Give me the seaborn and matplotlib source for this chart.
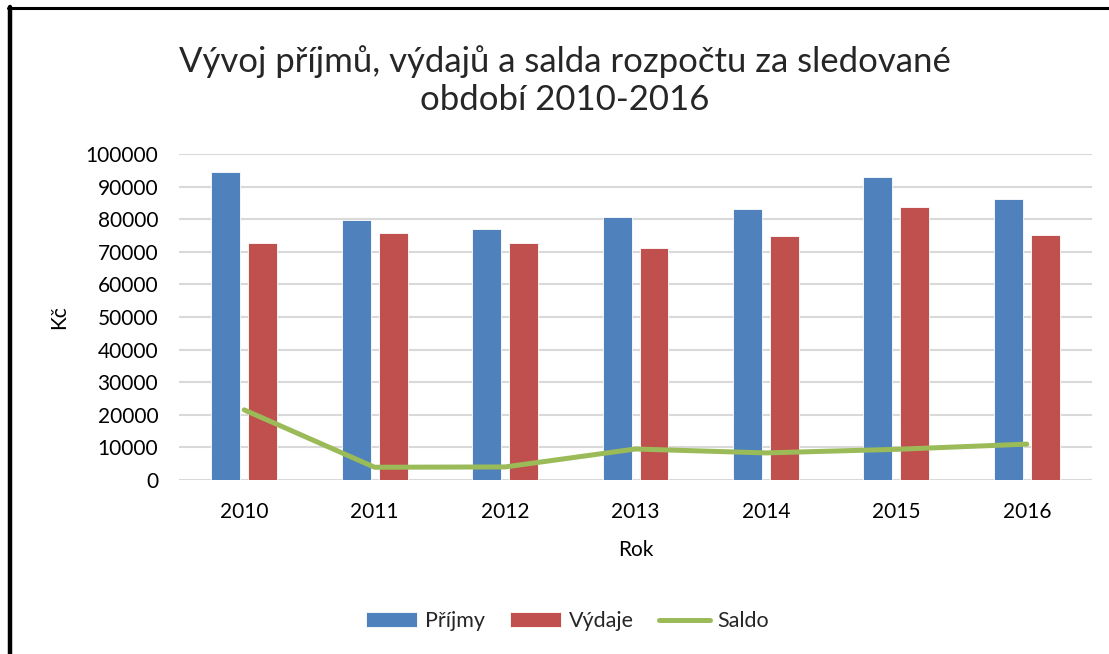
import numpy as np
import pandas as pd
import matplotlib.pyplot as plt
import seaborn as sns
from matplotlib.lines import Line2D

# values
years = ['2010', '2011', '2012', '2013', '2014', '2015', '2016']
prijmy = [94400, 79700, 76900, 80700, 83000, 93000, 86100]
vydaje = [72800, 75700, 72800, 71100, 74700, 83700, 75000]
saldo = [21500, 3900, 4000, 9500, 8300, 9400, 11000]

series_names = ['Příjmy', 'Výdaje']
yticks = [0, 10000, 20000, 30000, 40000, 50000, 60000, 70000, 80000, 90000, 100000]

COLORS = {
    'Příjmy': '#4F81BD',
    'Výdaje': '#C0504D',
    'Saldo': '#9BBB59',
    'grid': '#D9D9D9',
}

sns.set_theme(style='white')
plt.rcParams['font.family'] = ['Lato', 'DejaVu Sans']

df = pd.DataFrame({
    'Rok': years * 2,
    'Kč': prijmy + vydaje,
    'serie': [series_names[0]] * len(years) + [series_names[1]] * len(years),
})

fig = plt.figure(figsize=(11.09, 6.54), dpi=100)
ax = fig.add_axes([0.1614, 0.2661, 0.8233, 0.4985])

sns.barplot(data=df, x='Rok', y='Kč', hue='serie', palette=COLORS,
            saturation=1, width=0.567, gap=0.216, edgecolor='white',
            linewidth=0.6, ax=ax, zorder=2)
sns.lineplot(x=years, y=saldo, color=COLORS['Saldo'], linewidth=3.6,
             label='Saldo', ax=ax, zorder=3, solid_capstyle='round')

ax.set_ylim(0, 100000)
ax.set_xlim(-0.5, len(years) - 0.5)
ax.set_yticks(yticks)
ax.set_yticklabels([str(v) for v in yticks])
ax.yaxis.grid(True, color=COLORS['grid'], linewidth=1.5, zorder=0)
ax.set_axisbelow(True)
for s in ax.spines.values():
    s.set_visible(False)
ax.tick_params(axis='y', length=0, pad=15, labelsize=15, colors='black')
ax.tick_params(axis='x', length=0, pad=16, labelsize=15, colors='black')

ax.set_xlabel('Rok', fontsize=15, labelpad=13, color='black')
ax.set_ylabel('Kč', fontsize=15, labelpad=12, color='black')

handles, labels = ax.get_legend_handles_labels()
ax.legend(handles, labels, loc='center', bbox_to_anchor=(0.512, 0.0505),
          bbox_transform=fig.transFigure, ncol=3, frameon=False, fontsize=15.5,
          handlelength=2.37, handleheight=0.65, handletextpad=0.33,
          columnspacing=1.2)

fig.text(0.509, 0.877, 'Vývoj příjmů, výdajů a salda rozpočtu za sledované\nobdobí 2010-2016',
         ha='center', va='center', fontsize=25, linespacing=1.25)

# black frame on the top and left edge
fig.add_artist(Line2D([8 / 1109, 1], [1 - 8 / 654, 1 - 8 / 654],
                      transform=fig.transFigure, color='black', linewidth=2.2))
fig.add_artist(Line2D([10 / 1109, 10 / 1109], [0, 1 - 7 / 654],
                      transform=fig.transFigure, color='black', linewidth=3.2))

fig.savefig('out.png', dpi=100)
plt.close(fig)
